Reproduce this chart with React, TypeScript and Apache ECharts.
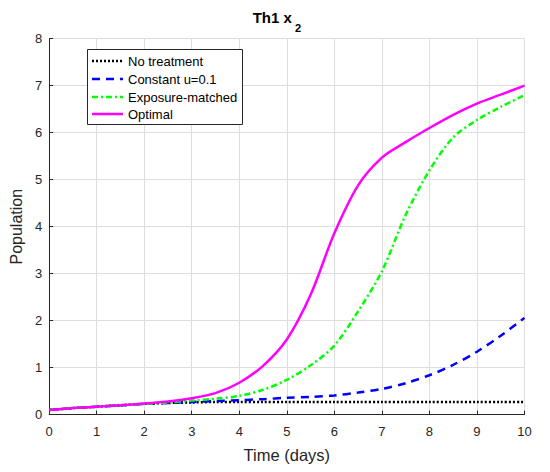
import React, { useEffect, useRef } from "react";
import * as echarts from "echarts";

const timeDays = [0, 0.5, 1, 1.5, 2, 2.5, 3, 3.5, 4, 4.5, 5, 5.5, 6, 6.5, 7, 7.5, 8, 8.5, 9, 9.5, 10];
const noTreatment = [0.1, 0.14, 0.17, 0.2, 0.23, 0.25, 0.26, 0.27, 0.27, 0.27, 0.27, 0.27, 0.27, 0.27, 0.27, 0.27, 0.27, 0.27, 0.27, 0.27, 0.27];
const constantU = [0.1, 0.14, 0.17, 0.2, 0.23, 0.25, 0.27, 0.29, 0.31, 0.33, 0.36, 0.38, 0.41, 0.47, 0.55, 0.67, 0.84, 1.06, 1.34, 1.68, 2.06];
const exposureMatched = [0.1, 0.14, 0.17, 0.2, 0.23, 0.26, 0.3, 0.34, 0.4, 0.53, 0.74, 1.05, 1.47, 2.2, 3.05, 4.25, 5.2, 5.9, 6.27, 6.55, 6.8];
const optimal = [0.1, 0.14, 0.17, 0.2, 0.24, 0.28, 0.35, 0.46, 0.68, 1.04, 1.6, 2.55, 3.86, 4.88, 5.47, 5.8, 6.1, 6.38, 6.62, 6.81, 7.0];
const seriesNames = ["No treatment", "Constant u=0.1", "Exposure-matched", "Optimal"];
const seriesColors = ["#000000", "#0000ff", "#00ff00", "#ff00ff"];
const seriesDash: (number[] | null)[] = [[2, 2], [8, 6], [6, 3, 2, 3], null];
const xTicks = { min: 0, max: 10, interval: 1 };
const yTicks = { min: 0, max: 8, interval: 1 };

const FONT = "'Liberation Sans', Arial, sans-serif";

export default function App() {
  const ref = useRef<HTMLDivElement>(null);
  useEffect(() => {
    if (!ref.current) return;
    const chart = echarts.init(ref.current, undefined, { renderer: "svg" });
    const pairs = (ys: number[]) => timeDays.map((t, i) => [t, ys[i]]);
    const allData = [noTreatment, constantU, exposureMatched, optimal];
    const series = seriesNames.map((name, i) => ({
      name,
      type: "line",
      data: pairs(allData[i]),
      showSymbol: false,
      symbol: "none",
      smooth: 0.3,
      lineStyle: { color: seriesColors[i], width: 2.5, type: seriesDash[i] ?? "solid" },
      itemStyle: { color: seriesColors[i] },
      emphasis: { disabled: true },
    }));

    // legend drawn manually (box, sample lines, labels)
    const legX = 87, legY = 49, legW = 155, legH = 75;
    const rowY = [61, 79, 97, 114];
    const legendEls: any[] = [
      {
        type: "rect",
        shape: { x: legX + 0.5, y: legY + 0.5, width: legW, height: legH },
        style: { fill: "#fff", stroke: "#262626", lineWidth: 1 },
        z: 100,
      },
    ];
    seriesNames.forEach((name, i) => {
      legendEls.push({
        type: "line",
        shape: { x1: 92, y1: rowY[i], x2: 123, y2: rowY[i] },
        style: { stroke: seriesColors[i], lineWidth: 2.5, lineDash: seriesDash[i] ?? undefined },
        z: 101,
      });
      legendEls.push({
        type: "text",
        x: 128,
        y: rowY[i],
        style: { text: name, font: `13px ${FONT}`, fill: "#000", verticalAlign: "middle", align: "left" },
        z: 101,
      });
    });

    chart.setOption({
      animation: false,
      textStyle: { fontFamily: FONT },
      grid: { left: 45.5, right: 25.5, top: 38.7, bottom: 57.3 },
      graphic: [
        {
          type: "text",
          left: 252.7,
          top: 10,
          style: { text: "Th1 x", font: `bold 15px ${FONT}`, fill: "#000" },
        },
        {
          type: "text",
          left: 295,
          top: 22.5,
          style: { text: "2", font: `bold 11px ${FONT}`, fill: "#000" },
        },
        ...legendEls,
      ],
      xAxis: {
        type: "value",
        ...xTicks,
        name: "Time (days)",
        nameLocation: "middle",
        nameGap: 32,
        nameTextStyle: { fontSize: 16.5, color: "#262626", fontFamily: FONT },
        axisLine: { show: true, lineStyle: { color: "#262626", width: 1 } },
        axisTick: { show: true, inside: true, length: 4, lineStyle: { color: "#262626" } },
        axisLabel: { fontSize: 13, color: "#262626", margin: 10, fontFamily: FONT },
        splitLine: { show: true, lineStyle: { color: "#dedede", width: 1 } },
      },
      yAxis: {
        type: "value",
        ...yTicks,
        name: "Population",
        nameLocation: "middle",
        nameGap: 20,
        nameRotate: 90,
        nameTextStyle: { fontSize: 16, color: "#262626", fontFamily: FONT },
        axisLine: { show: true, lineStyle: { color: "#262626", width: 1 } },
        axisTick: { show: true, inside: true, length: 4, lineStyle: { color: "#262626" } },
        axisLabel: { fontSize: 13, color: "#262626", margin: 7, fontFamily: FONT },
        splitLine: { show: true, lineStyle: { color: "#dedede", width: 1 } },
      },
      series,
    });
    return () => chart.dispose();
  }, []);
  return (
    <div
      ref={ref}
      style={{ position: "absolute", left: 0, top: 0, width: 550, height: 472, background: "#fff" }}
    />
  );
}
